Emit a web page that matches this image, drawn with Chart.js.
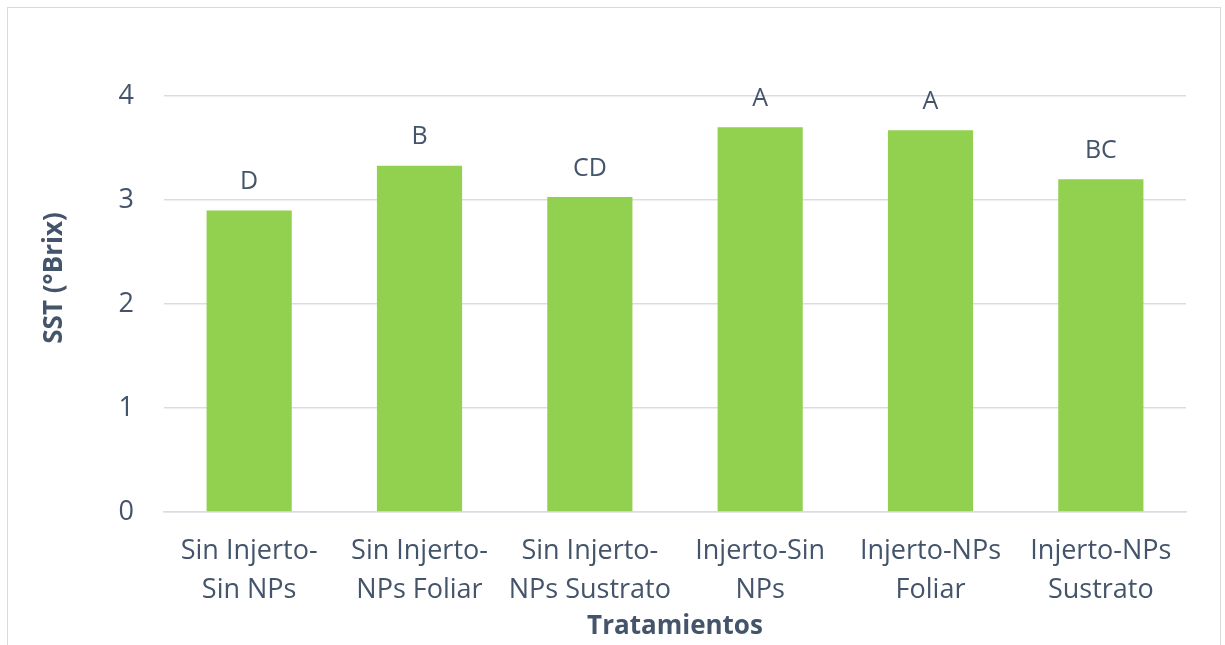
<!DOCTYPE html>
<html>
<head>
<meta charset="utf-8">
<script src="https://cdn.jsdelivr.net/npm/chart.js@4.4.1/dist/chart.umd.min.js"></script>
<style>
  html, body { margin: 0; padding: 0; background: #fff; }
  #wrap { position: relative; width: 1225px; height: 645px; overflow: hidden; }
  #frame {
    position: absolute; left: 7px; top: 7px; width: 1214px; height: 660px;
    border: 1.5px solid #d9d9d9; box-sizing: border-box;
  }
  canvas { position: absolute; left: 0; top: 0; }
</style>
</head>
<body>
<div id="wrap">
  <div id="frame"></div>
  <canvas id="canvas" width="1225" height="645"></canvas>
</div>
<script>
// data
const categories = [
  ["Sin Injerto-", "Sin NPs"],
  ["Sin Injerto-", "NPs Foliar"],
  ["Sin Injerto-", "NPs Sustrato"],
  ["Injerto-Sin", "NPs"],
  ["Injerto-NPs", "Foliar"],
  ["Injerto-NPs", "Sustrato"],
];
const sstValues = [2.9, 3.33, 3.03, 3.7, 3.67, 3.2];
const groupLetters = ["D", "B", "CD", "A", "A", "BC"];
const yTicks = [0, 1, 2, 3, 4];

const textColor = "#44546A";
const gridColor = "#d9dde3";
const fontName = "'Open Sans', sans-serif";

// letters above each bar + y axis title (sits a bit above the middle like in Excel)
const letterPlugin = {
  id: "letters",
  afterDatasetsDraw(chart) {
    const ctx = chart.ctx;
    const meta = chart.getDatasetMeta(0);
    ctx.save();
    ctx.fillStyle = textColor;
    ctx.font = "25px " + fontName;
    ctx.textAlign = "center";
    ctx.textBaseline = "bottom";
    meta.data.forEach((bar, i) => {
      ctx.fillText(groupLetters[i], bar.x, bar.y - 16);
    });

    // y title
    ctx.font = "bold 26px " + fontName;
    ctx.textBaseline = "middle";
    ctx.translate(55, 278);
    ctx.rotate(-Math.PI / 2);
    ctx.fillText("SST (°Brix)", 0, 0);
    ctx.restore();
  },
};

const ctx = document.getElementById("canvas").getContext("2d");
new Chart(ctx, {
  type: "bar",
  data: {
    labels: categories,
    datasets: [
      {
        data: sstValues,
        backgroundColor: "#92D050",
        borderWidth: 0,
        barPercentage: 0.5,
        categoryPercentage: 1,
      },
    ],
  },
  options: {
    responsive: false,
    animation: false,
    layout: { padding: { left: 41, right: 39, top: 96, bottom: 0 } },
    plugins: {
      legend: { display: false },
      tooltip: { enabled: false },
    },
    scales: {
      x: {
        grid: { display: false, drawTicks: false },
        border: { display: true, color: gridColor, width: 1.5 },
        ticks: {
          color: textColor,
          font: { family: fontName, size: 27, lineHeight: 1.44 },
          padding: 20,
          maxRotation: 0,
          autoSkip: false,
        },
        title: {
          display: true,
          text: "Tratamientos",
          color: textColor,
          font: { family: fontName, size: 26, weight: "bold" },
          padding: { top: 0, bottom: 3 },
        },
        afterFit(scale) {
          scale.height = 133;
        },
      },
      y: {
        min: 0,
        max: 4,
        afterBuildTicks(scale) {
          scale.ticks = yTicks.map((v) => ({ value: v }));
        },
        grid: { color: gridColor, lineWidth: 1.5, drawTicks: false },
        border: { display: false },
        ticks: {
          color: textColor,
          font: { family: fontName, size: 27 },
          padding: 30,
        },
        afterFit(scale) {
          scale.width = 123;
        },
      },
    },
  },
  plugins: [letterPlugin],
});
</script>
</body>
</html>
